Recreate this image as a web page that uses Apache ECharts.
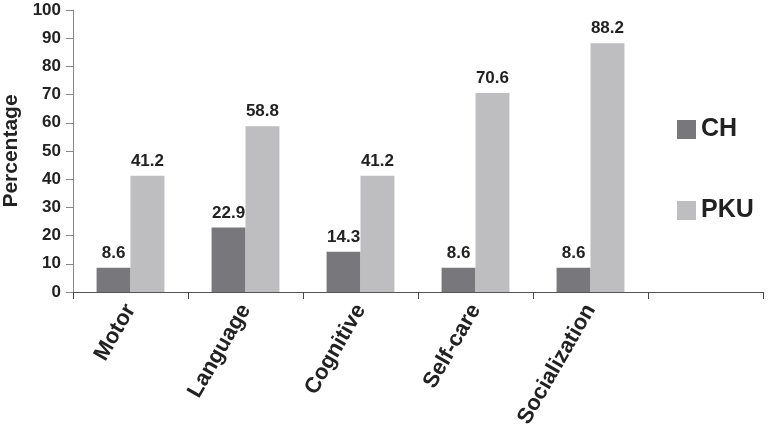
<!DOCTYPE html>
<html lang="en">
<head>
    <meta charset="UTF-8">
    <title>CH vs PKU</title>
    <script src="https://cdn.jsdelivr.net/npm/echarts@6/dist/echarts.min.js"></script>
    <style>
        html, body { margin: 0; padding: 0; background: #fff; }
        #chart { width: 768px; height: 432px; }
    </style>
</head>
<body>
    <div id="chart"></div>
    <script>
        // categories (last one is an empty slot, like the original)
        var categories = ['Motor', 'Language', 'Cognitive', 'Self-care', 'Socialization', ''];
        var chValues = [8.6, 22.9, 14.3, 8.6, 8.6, null];
        var pkuValues = [41.2, 58.8, 41.2, 70.6, 88.2, null];

        var font = 'Liberation Sans, Arial, sans-serif';
        var myChart = echarts.init(document.getElementById('chart'));

        var option = {
            animation: false,
            grid: { left: 73, right: 5, top: 10, bottom: 140, outerBoundsMode: 'none' },
            legend: {
                orient: 'vertical',
                left: 672,
                top: 112,
                icon: 'rect',
                itemWidth: 19,
                itemHeight: 19,
                itemGap: 56,
                textStyle: { fontFamily: font, fontSize: 25, fontWeight: 'bold', color: '#222' },
                data: ['CH', 'PKU']
            },
            xAxis: {
                type: 'category',
                data: categories,
                axisLine: { lineStyle: { color: '#555', width: 1 } },
                axisTick: { show: true, length: 7, lineStyle: { color: '#444' } },
                axisLabel: {
                    interval: 0,
                    rotate: 60,
                    margin: 14,
                    fontFamily: font,
                    fontSize: 22,
                    fontWeight: 'bold',
                    color: '#222'
                }
            },
            yAxis: {
                type: 'value',
                min: 0,
                max: 100,
                interval: 10,
                name: 'Percentage',
                nameLocation: 'middle',
                nameGap: 51,
                nameTextStyle: { fontFamily: font, fontSize: 21, fontWeight: 'bold', color: '#222' },
                axisLine: { show: true, lineStyle: { color: '#888' } },
                axisTick: { show: true, length: 7, lineStyle: { color: '#888' } },
                splitLine: { show: false },
                axisLabel: {
                    margin: 12,
                    fontFamily: font,
                    fontSize: 17,
                    fontWeight: 'bold',
                    color: '#222'
                }
            },
            series: [{
                name: 'CH',
                type: 'bar',
                data: chValues,
                barGap: '0%',
                barCategoryGap: '41%',
                itemStyle: { color: '#78787c' },
                label: {
                    show: true, position: 'top', distance: 6,
                    fontFamily: font, fontSize: 17, fontWeight: 'bold', color: '#222'
                }
            }, {
                name: 'PKU',
                type: 'bar',
                data: pkuValues,
                itemStyle: { color: '#bebec0' },
                label: {
                    show: true, position: 'top', distance: 6,
                    fontFamily: font, fontSize: 17, fontWeight: 'bold', color: '#222'
                }
            }]
        };

        myChart.setOption(option);
    </script>
</body>
</html>
